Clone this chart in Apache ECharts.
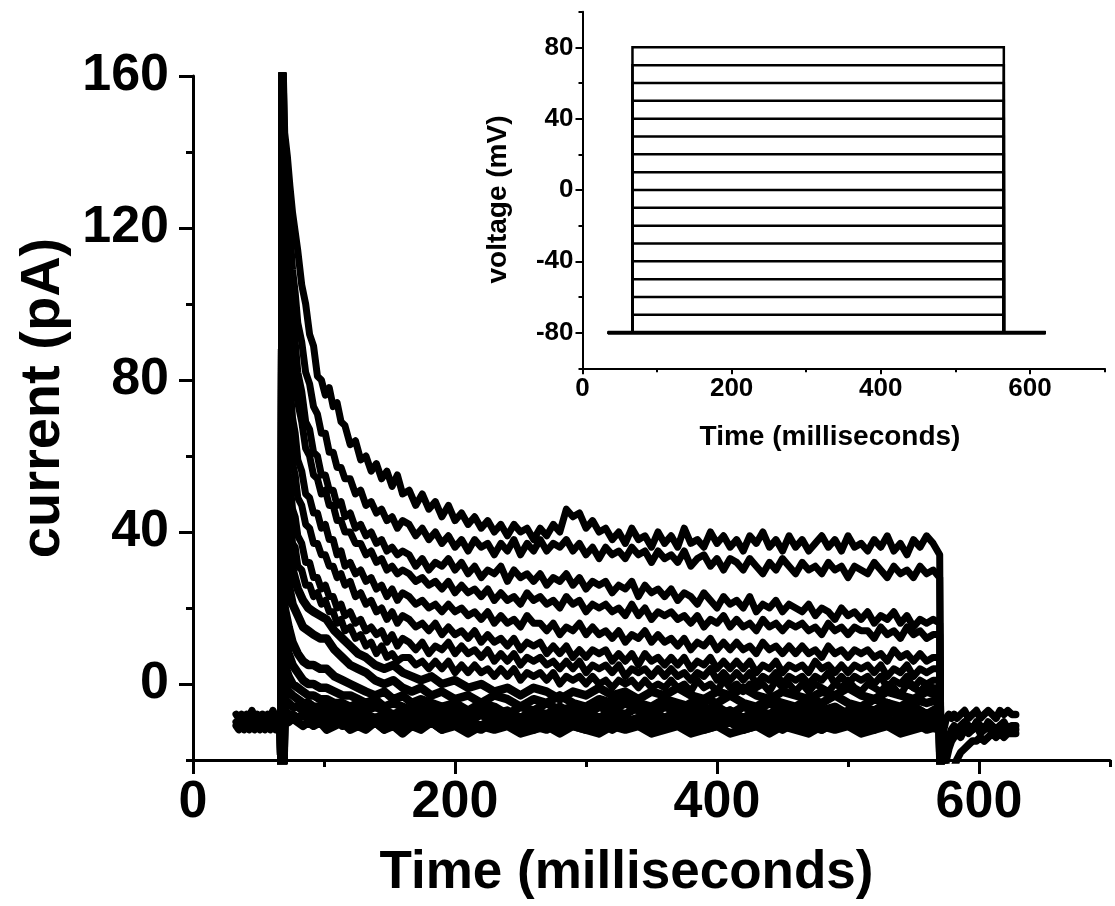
<!DOCTYPE html>
<html><head><meta charset="utf-8">
<script src="https://cdn.jsdelivr.net/npm/echarts@6/dist/echarts.min.js"></script>
<style>html,body{margin:0;padding:0;background:#fff}#c{width:1115px;height:906px}</style>
</head><body><div id="c"></div>
<script>
// ---- current traces during the step (time in ms), larger traces sampled finely ----
const timeFineMs = [67,68,70,72,74,76,78,80,83,86,89,92,95,98,101,104,107,110,113,116,120,124,128,132,136,140,144,148,152,156,160,165,170,175,180,185,190,195,200,205,210,215,220,225,230,235,240,245,250,255,260,265,270,275,280,285,290,295,300,305,310,315,320,325,330,335,340,345,350,355,360,365,370,375,380,385,390,395,400,405,410,415,420,425,430,435,440,445,450,455,460,465,470,475,480,485,490,495,500,505,510,515,520,525,530,535,540,545,550,555,560,565,570,571];
const curP80 = [-10,175,145,139,131,124,119,114,105,100,92,89,81,80,76,78,73,74,69,68,63,64,59,60,56,58,54,56,52,55,50,51,47,50,46,48,44,47,43,45,42,44,41,43,40,42,39,42,40,41,38,41,39,42,40,46,44,45,41,43,40,41,38,40,37,41,38,39,36,40,37,39,36,41,37,38,36,40,37,39,36,38,35,39,37,40,36,38,35,39,36,38,35,37,39,36,38,35,39,36,37,35,38,36,39,35,37,34,38,36,39,37,34,-30];
const curP70 = [-10,175,140,127,119,109,103,95,90,82,79,73,71,66,66,61,61,57,57,54,54,50,51,47,48,45,46,43,44,41,43,42,39,41,38,40,37,39,36,38,35,38,36,37,34,37,35,38,34,37,35,38,35,37,36,38,35,37,34,36,33,36,34,35,33,36,34,35,32,35,33,34,32,35,31,33,34,31,33,30,33,32,30,33,31,29,32,30,33,31,29,32,30,31,29,32,30,31,28,31,30,29,32,30,28,31,29,30,28,31,29,30,28,-30];
const curP60 = [-10,175,125,113,105,95,90,82,77,69,67,61,60,55,55,51,51,47,48,44,45,41,42,39,40,37,38,35,36,34,35,34,31,33,30,32,31,33,30,32,29,31,28,30,29,31,27,30,28,29,27,29,26,28,27,29,26,28,25,27,26,27,24,26,25,27,23,26,24,25,23,25,22,24,23,21,24,22,20,23,21,22,20,23,19,21,20,22,19,21,20,19,21,18,20,19,17,20,18,19,17,19,16,18,17,19,16,18,15,17,16,17,16,-30];
const curP50 = [-10,175,115,103,96,86,81,74,69,62,60,55,54,50,51,47,47,43,43,40,40,37,37,34,35,32,33,30,31,29,30,29,27,28,26,27,25,27,24,26,24,25,23,25,22,24,22,23,21,24,22,23,21,22,20,23,21,22,19,21,20,21,19,20,18,21,18,20,17,19,18,19,17,18,16,18,15,17,16,18,15,17,15,16,14,17,15,16,14,16,15,16,14,15,13,16,14,15,13,15,14,14,12,15,13,14,12,15,13,14,12,13,13,-30];
const curP40 = [-10,175,95,85,79,70,66,59,56,50,49,45,45,41,42,38,38,34,35,31,32,29,30,27,28,25,26,23,25,22,24,23,21,22,20,21,19,21,19,20,18,19,17,19,16,18,16,17,15,18,16,16,14,16,13,15,14,16,13,15,13,14,12,14,11,13,12,14,11,13,11,12,10,12,9,11,10,12,9,11,9,11,9,10,8,11,9,10,8,10,8,10,8,9,7,10,8,9,7,9,8,9,7,8,6,9,7,8,6,8,6,7,7,-30];
const curP30 = [-10,175,80,71,66,58,55,49,47,42,41,37,37,34,34,31,31,28,29,26,27,23,24,21,22,19,20,17,19,16,18,17,15,16,14,16,13,15,13,14,12,14,11,13,11,12,10,12,9,11,10,11,8,10,8,10,7,9,7,9,8,9,6,8,6,8,5,8,6,7,5,7,5,7,4,6,5,7,4,6,4,6,4,6,3,5,4,6,3,5,4,5,3,6,4,5,3,5,3,5,4,5,3,5,2,4,3,5,2,4,3,4,4,-30];
const curP20 = [-10,175,65,57,53,46,44,39,37,32,32,28,28,25,26,23,23,20,21,18,19,16,17,14,15,13,14,11,13,10,12,11,9,11,8,10,9,11,8,10,8,9,7,9,6,8,6,8,5,7,6,7,5,6,4,6,4,6,3,5,4,5,3,5,2,4,3,4,2,4,2,4,2,3,1,3,2,4,1,3,1,3,1,3,0,2,1,3,0,2,1,2,0,2,1,3,0,2,0,2,1,2,0,2,-1,1,0,2,-1,1,0,1,1,-30];
const curP10 = [-10,175,55,47,44,37,36,31,30,26,26,23,24,21,22,19,19,16,17,14,15,12,13,10,11,8,10,7,8,6,7,7,5,6,4,6,4,6,3,5,3,5,3,4,2,4,2,4,1,3,2,3,1,3,0,2,1,2,0,2,0,1,-1,1,0,1,-1,1,-1,0,-1,1,-1,0,-2,1,-1,0,-2,1,-1,0,-2,0,-1,0,-2,1,-1,0,-2,0,-2,0,-1,-2,0,-1,1,-1,-2,0,-1,-2,0,-1,-3,0,-1,-2,0,-1,-1,-30];

// ---- smaller traces, sampled more coarsely ----
const timeCoarseMs = [67,68,70,73,76,80,84,88,92,97,102,108,114,120,126,132,139,146,153,160,167,174,182,190,200,210,220,230,240,250,260,270,280,290,300,310,320,330,340,350,360,370,380,390,400,410,420,430,440,450,460,470,480,490,500,510,520,530,540,550,560,570,571];
const curP0 = [-10,-35,45,36,30,25,22,20,19,18,17,14,12,10,8,7,5,4,5,3,2,1,2,0,1,-1,0,-2,-1,-3,-1,-2,-4,-2,-3,-1,-3,-2,-4,-2,-3,-1,-3,-4,-2,-3,-1,-3,-4,-2,-3,-4,-2,-3,-1,-3,-4,-2,-3,-4,-2,-3,-30];
const curM10 = [-10,-35,32,26,21,18,15,14,13,12,12,9,7,5,4,3,1,0,1,-1,-2,-1,-3,-2,-4,-3,-5,-3,-4,-6,-4,-5,-3,-5,-6,-4,-5,-3,-5,-6,-4,-5,-6,-4,-5,-3,-5,-6,-4,-5,-6,-4,-5,-3,-5,-6,-4,-5,-6,-4,-5,-4,-30];
const curM20 = [-10,-35,20,15,11,8,6,5,5,4,4,2,1,0,-1,-2,-3,-2,-4,-3,-5,-4,-5,-6,-5,-7,-5,-6,-8,-6,-7,-5,-7,-6,-8,-6,-7,-5,-7,-8,-6,-7,-5,-7,-6,-8,-6,-7,-5,-7,-8,-6,-7,-6,-8,-6,-7,-5,-7,-6,-8,-6,-30];
const curM30 = [-10,-35,12,8,5,3,1,0,0,-1,-1,-2,-3,-3,-4,-5,-4,-6,-5,-6,-7,-5,-7,-6,-8,-7,-6,-8,-7,-9,-7,-8,-6,-8,-7,-9,-7,-8,-6,-8,-9,-7,-8,-6,-8,-7,-9,-7,-8,-6,-8,-7,-9,-7,-8,-7,-9,-7,-8,-6,-8,-7,-30];
const curM40 = [-10,-35,5,2,0,-1,-2,-3,-3,-4,-4,-5,-5,-6,-5,-7,-6,-7,-8,-7,-8,-7,-9,-8,-7,-9,-8,-10,-8,-9,-7,-9,-8,-10,-8,-9,-8,-10,-9,-7,-9,-8,-10,-8,-9,-7,-9,-10,-8,-9,-8,-10,-8,-9,-7,-9,-8,-10,-9,-8,-9,-8,-30];
const curM50 = [-10,-35,0,-2,-3,-4,-5,-5,-6,-6,-6,-7,-6,-8,-7,-8,-9,-8,-9,-8,-10,-9,-8,-10,-9,-10,-8,-10,-9,-11,-9,-10,-8,-10,-9,-11,-9,-10,-9,-11,-10,-9,-11,-9,-10,-8,-10,-9,-11,-9,-10,-9,-11,-9,-10,-8,-10,-9,-11,-10,-9,-10,-30];
const curM60 = [-10,-35,-4,-5,-6,-6,-7,-7,-8,-7,-8,-9,-8,-9,-10,-9,-10,-9,-11,-10,-9,-11,-10,-11,-9,-10,-11,-9,-11,-10,-12,-10,-11,-9,-11,-10,-12,-10,-11,-9,-11,-10,-12,-10,-11,-10,-12,-10,-11,-9,-11,-10,-12,-10,-11,-10,-12,-10,-11,-10,-12,-11,-30];
const curM70 = [-10,-35,-7,-8,-8,-9,-8,-9,-10,-9,-10,-9,-11,-10,-9,-11,-10,-12,-10,-11,-9,-11,-10,-12,-10,-11,-12,-10,-11,-9,-11,-12,-10,-11,-12,-10,-11,-9,-11,-12,-10,-11,-10,-12,-11,-10,-12,-11,-10,-12,-10,-11,-12,-10,-11,-12,-10,-11,-12,-10,-11,-10,-30];
const curM80 = [-10,-35,-9,-10,-9,-10,-11,-10,-11,-10,-12,-11,-10,-12,-11,-12,-10,-12,-11,-13,-11,-12,-10,-12,-11,-13,-11,-12,-11,-13,-12,-11,-13,-11,-12,-13,-11,-12,-11,-13,-12,-11,-13,-12,-11,-13,-12,-11,-13,-11,-12,-13,-11,-12,-11,-13,-12,-11,-13,-12,-11,-12,-30];

// ---- holding current before the step ----
const timePreMs = [33,35,37,39,41,43,45,47,49,51,53,55,57,59,61,63,65,67];
const preA = [-8,-9,-8,-10,-8,-9,-7,-9,-8,-10,-8,-9,-8,-9,-7,-9,-8,-9];
const preB = [-10,-11,-9,-10,-11,-9,-10,-11,-10,-9,-11,-10,-9,-11,-10,-9,-10,-10];
const preC = [-11,-12,-11,-12,-10,-12,-11,-12,-11,-12,-10,-12,-11,-12,-11,-12,-11,-11];

// ---- tail current after the step ----
const timePostMs = [571,573,575,577,579,581,583,586,589,592,595,598,601,604,607,610,613,616,619,622,625,628];
const postA = [-30,-12,-9,-8,-9,-8,-9,-8,-7,-9,-8,-7,-9,-8,-7,-8,-9,-7,-8,-7,-8,-8];
const postB = [-30,-30,-28,-26,-24,-22,-20,-18,-17,-16,-15,-15,-14,-15,-14,-13,-14,-13,-14,-13,-13,-13];
const postC = [-30,-22,-16,-14,-12,-11,-12,-11,-10,-11,-12,-10,-11,-12,-10,-11,-12,-11,-10,-12,-11,-11];
const postD = [-30,-26,-20,-17,-15,-14,-13,-14,-12,-13,-12,-11,-13,-12,-11,-13,-12,-11,-13,-12,-12,-12];

// ---- inset: voltage protocol ----
const voltageLevelsMv = [80,70,60,50,40,30,20,10,0,-10,-20,-30,-40,-50,-60,-70,-80];
const holdingMv = -80;
const protocolTimesMs = [34, 67, 565, 621]; // start, step on, step off, end

// ---- tick labels ----
const mainXTicks = [0,200,400,600];
const mainXMinor = [100,300,500,700];
const mainYTicks = [0,40,80,120,160];
const mainYMinor = [-20,20,60,100,140];
const insetXTicks = [0,200,400,600];
const insetXMinor = [100,300,500,700];
const insetYTicks = [-80,-40,0,40,80];
const insetYMinor = [-100,-60,-20,20,60,100];

const fineTraces = [curP80,curP70,curP60,curP50,curP40,curP30,curP20,curP10];
const coarseTraces = [curP0,curM10,curM20,curM30,curM40,curM50,curM60,curM70,curM80];
const preTraces = [preA,preB,preC];
const postTraces = [postA,postB,postC,postD];

const FONT = 'Liberation Sans';
const BLACK = '#000';

function pairs(ts, vs){ return ts.map((t,i)=>[t, vs[i]]); }

function axisBase(extra){
  return Object.assign({
    type:'value',
    splitLine:{show:false},
    axisLine:{show:true,onZero:false,lineStyle:{color:BLACK,width:3}},
  }, extra);
}

const series = [];
function addMain(ts, arr, w){
  series.push({type:'line',xAxisIndex:0,yAxisIndex:0,data:pairs(ts,arr),showSymbol:false,symbol:'none',
    lineStyle:{color:BLACK,width:w,join:'round',cap:'round'},silent:true,clip:true});
}
fineTraces.forEach(a=>addMain(timeFineMs,a,7));
coarseTraces.forEach(a=>addMain(timeCoarseMs,a,8.5));
preTraces.forEach(a=>addMain(timePreMs,a,7.5));
postTraces.forEach(a=>addMain(timePostMs,a,7.5));

voltageLevelsMv.forEach((v)=>{
  const [t0,tOn,tOff,t1] = protocolTimesMs;
  series.push({type:'line',xAxisIndex:2,yAxisIndex:2,
    data:[[t0,holdingMv],[tOn,holdingMv],[tOn,v],[tOff,v],[tOff,holdingMv],[t1,holdingMv]],
    showSymbol:false,symbol:'none',
    lineStyle:{color:BLACK,width:(v===holdingMv?4:2.5),join:'miter'},silent:true});
});

const mainLabel = {fontFamily:FONT,fontWeight:'bold',fontSize:52,color:BLACK};
const insetLabel = {fontFamily:FONT,fontWeight:'bold',fontSize:26,color:BLACK};

const option = {
  animation:false,
  backgroundColor:'#fff',
  grid:[
    {left:193,top:76,width:917,height:684,containLabel:false,outerBoundsMode:'none'},
    {left:582.5,top:11.7,width:522,height:356.6,containLabel:false,outerBoundsMode:'none'}
  ],
  xAxis:[
    axisBase({gridIndex:0,position:'bottom',min:0,max:700,
      axisTick:{show:true,customValues:mainXTicks,length:14,lineStyle:{color:BLACK,width:3}},
      axisLabel:Object.assign({customValues:mainXTicks,margin:17},mainLabel),
      name:'Time (milliseconds)',nameLocation:'middle',nameGap:87,
      nameTextStyle:{fontFamily:FONT,fontWeight:'bold',fontSize:53,color:BLACK,padding:[0,50,0,0]}}),
    axisBase({gridIndex:0,position:'bottom',min:0,max:700,axisLine:{show:false,onZero:false},
      axisTick:{show:true,customValues:mainXMinor,length:7,lineStyle:{color:BLACK,width:3}},
      axisLabel:{show:false}}),
    axisBase({gridIndex:1,position:'bottom',min:0,max:700,
      axisLine:{show:true,onZero:false,lineStyle:{color:BLACK,width:2}},
      axisTick:{show:true,customValues:insetXTicks,length:6,lineStyle:{color:BLACK,width:2}},
      axisLabel:Object.assign({customValues:insetXTicks,margin:8},insetLabel),
      name:'Time (milliseconds)',nameLocation:'middle',nameGap:55,
      nameTextStyle:{fontFamily:FONT,fontWeight:'bold',fontSize:28,color:BLACK,padding:[0,27,0,0]}}),
    axisBase({gridIndex:1,position:'bottom',min:0,max:700,axisLine:{show:false,onZero:false},
      axisTick:{show:true,customValues:insetXMinor,length:4,lineStyle:{color:BLACK,width:2}},
      axisLabel:{show:false}})
  ],
  yAxis:[
    axisBase({gridIndex:0,position:'left',min:-20,max:160,
      axisTick:{show:true,customValues:mainYTicks,length:14,lineStyle:{color:BLACK,width:3}},
      axisLabel:Object.assign({customValues:mainYTicks,margin:24,padding:[0,0,8,0]},mainLabel),
      name:'current (pA)',nameLocation:'middle',nameGap:113,
      nameTextStyle:{fontFamily:FONT,fontWeight:'bold',fontSize:56,color:BLACK,padding:[0,0,0,40]}}),
    axisBase({gridIndex:0,position:'left',min:-20,max:160,axisLine:{show:false,onZero:false},
      axisTick:{show:true,customValues:mainYMinor,length:7,lineStyle:{color:BLACK,width:3}},
      axisLabel:{show:false}}),
    axisBase({gridIndex:1,position:'left',min:-100,max:100,
      axisLine:{show:true,onZero:false,lineStyle:{color:BLACK,width:2}},
      axisTick:{show:true,customValues:insetYTicks,length:7,lineStyle:{color:BLACK,width:2}},
      axisLabel:Object.assign({customValues:insetYTicks,margin:9},insetLabel),
      name:'voltage (mV)',nameLocation:'middle',nameGap:70,
      nameTextStyle:{fontFamily:FONT,fontWeight:'bold',fontSize:28,color:BLACK,padding:[0,19,0,0]}}),
    axisBase({gridIndex:1,position:'left',min:-100,max:100,axisLine:{show:false,onZero:false},
      axisTick:{show:true,customValues:insetYMinor,length:4,lineStyle:{color:BLACK,width:2}},
      axisLabel:{show:false}})
  ],
  series:series
};
const chart = echarts.init(document.getElementById('c'),null,{renderer:'canvas'});
chart.setOption(option);
</script></body></html>
